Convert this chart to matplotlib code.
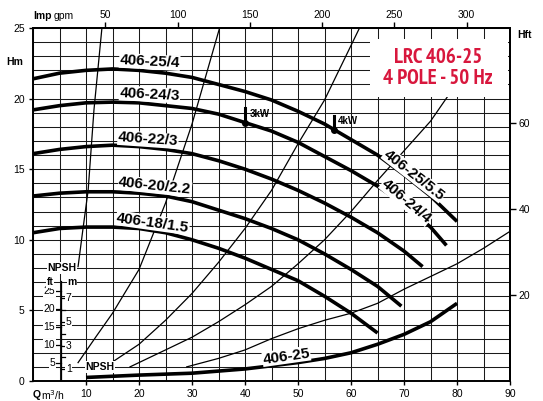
import numpy as np
import matplotlib.pyplot as plt
from matplotlib import font_manager as fm
from matplotlib.patches import Rectangle

plt.rcParams['font.family'] = ['Liberation Sans', 'DejaVu Sans']

# pump head curves, Q in m3/h, H in m
q_25 = [0, 5, 10, 15, 20, 25, 30, 35, 40, 45, 50, 55, 60, 65, 70, 75, 80]
h_25 = [21.4, 21.8, 22.0, 22.1, 22.0, 21.8, 21.5, 21.0, 20.5, 19.9, 19.1, 18.2, 17.1, 16.0, 14.6, 13.1, 11.3]
q_24 = [0, 5, 10, 15, 20, 25, 30, 35, 40, 45, 50, 55, 60, 65, 70, 75, 78]
h_24 = [19.2, 19.5, 19.7, 19.75, 19.7, 19.5, 19.3, 18.9, 18.3, 17.7, 16.9, 15.9, 14.9, 13.8, 12.5, 10.9, 9.6]
q_22 = [0, 5, 10, 15, 20, 25, 30, 35, 40, 45, 50, 55, 60, 65, 70, 73.5]
h_22 = [16.1, 16.4, 16.6, 16.7, 16.6, 16.4, 16.1, 15.6, 15.0, 14.3, 13.5, 12.6, 11.6, 10.5, 9.2, 8.1]
q_20 = [0, 5, 10, 15, 20, 25, 30, 35, 40, 45, 50, 55, 60, 65, 69.5]
h_20 = [13.1, 13.3, 13.4, 13.4, 13.3, 13.1, 12.7, 12.1, 11.5, 10.8, 10.0, 9.0, 7.9, 6.7, 5.3]
q_18 = [0, 5, 10, 15, 20, 25, 30, 35, 40, 45, 50, 55, 60, 65]
h_18 = [10.5, 10.8, 10.9, 10.9, 10.8, 10.5, 10.0, 9.4, 8.7, 7.9, 7.1, 6.0, 4.8, 3.4]

# NPSH curve (m of NPSH)
q_npsh = [10, 20, 30, 40, 50, 55, 60, 65, 70, 75, 80]
npsh_m = [0.3, 0.5, 0.66, 1.02, 1.56, 1.91, 2.39, 3.11, 3.95, 5.02, 6.58]

# thin curves
q_t1 = [8.5, 9.4, 10.4, 11.5, 13.0]
h_t1 = [8.1, 10.7, 13.5, 19.2, 25.0]
q_t2 = [8.5, 12, 15, 20, 25, 30, 35.2]
h_t2 = [1.3, 3.2, 4.8, 7.9, 12.6, 18.2, 25.0]
q_t3 = [15, 20, 25, 30, 35, 40, 45, 50, 55, 61.6]
h_t3 = [1.35, 2.6, 4.3, 6.2, 8.4, 10.8, 13.5, 16.8, 19.9, 25.0]
q_t4 = [18.3, 25, 30, 35, 40, 45, 50, 55, 60, 65, 70, 75, 78.5]
h_t4 = [1.0, 2.2, 3.1, 4.2, 5.4, 6.7, 8.3, 10.0, 12.0, 14.2, 16.3, 18.4, 20.3]
q_t5 = [29, 35, 40, 45, 50, 55, 60, 65, 70, 75, 80, 85, 90]
h_t5 = [1.0, 1.6, 2.2, 3.0, 3.7, 4.3, 4.8, 5.5, 6.5, 7.4, 8.3, 9.4, 10.6]

# motor power marks
kw_labels = ['3kW', '4kW']
kw_q = [40, 56.7]
kw_h = [18.3, 17.8]

gpm_ticks = [50, 100, 150, 200, 250, 300]
ft_ticks = [20, 40, 60]
npsh_ft_ticks = [5, 10, 15, 20, 25]
npsh_m_ticks = [1, 2, 3, 4, 5, 6, 7]

M3H_TO_GPM = 3.666
M_TO_FT = 3.281
NPSH_SCALE = 0.836   # 1 m NPSH in head-axis metres

RED = '#d8173d'


def narrow_bold_font():
    """pick a narrow bold face for the title, sized to fit the box"""
    narrow, cond = None, None
    for f in fm.fontManager.ttflist:
        nm = (f.name + ' ' + str(f.stretch)).lower()
        w = f.weight if isinstance(f.weight, int) else 400
        if w < 600 or 'semi' in nm:
            continue
        if 'narrow' in nm and narrow is None:
            narrow = f.fname
        elif 'condensed' in nm and cond is None:
            cond = f.fname
    if narrow:
        return fm.FontProperties(fname=narrow, size=15)
    if cond:
        return fm.FontProperties(fname=cond, size=11.5)
    return fm.FontProperties(family='Liberation Sans', weight='bold', size=12)


fig = plt.figure(figsize=(5.43, 4.01), dpi=100)
ax = fig.add_axes([0.0608, 0.0499, 0.8785, 0.8803])
ax.set_xlim(0, 90)
ax.set_ylim(0, 25)

ax.set_xticks(range(10, 91, 10))
ax.set_xticks(np.arange(0, 91, 5), minor=True)
ax.set_yticks(range(0, 26, 5))
ax.set_yticks(range(0, 26), minor=True)
ax.set_axisbelow(True)
ax.grid(which='both', color='0.1', lw=0.75)
ax.tick_params(which='major', length=3, width=1, labelsize=7.5, pad=3)
ax.tick_params(which='minor', length=0)
for sp in ax.spines.values():
    sp.set_linewidth(1.4)

# head curves
thick = dict(color='black', lw=2.6, solid_capstyle='butt', zorder=4)
for q, h in [(q_25, h_25), (q_24, h_24), (q_22, h_22), (q_20, h_20), (q_18, h_18)]:
    ax.plot(q, h, **thick)
ax.plot(q_npsh, np.array(npsh_m) * NPSH_SCALE, **thick)

for q, h in [(q_t1, h_t1), (q_t2, h_t2), (q_t3, h_t3), (q_t4, h_t4), (q_t5, h_t5)]:
    ax.plot(q, h, color='black', lw=0.9, zorder=2)

# power marks
for lab, q, h in zip(kw_labels, kw_q, kw_h):
    ax.plot([q, q], [h, h + 1.0], color='black', lw=2.2, zorder=5)
    ax.plot(q, h, 'o', color='black', ms=4, zorder=5)
    ax.text(q + 0.8, h + 0.6, lab, fontsize=7, fontweight='bold', va='center', zorder=5)

# curve labels
lbl = dict(fontsize=11, fontweight='bold', ha='center', va='center', zorder=6,
           bbox=dict(facecolor='white', edgecolor='none', pad=0.3))
ax.text(22.0, 22.6, '406-25/4', rotation=-3, **lbl)
ax.text(22.0, 20.3, '406-24/3', rotation=-3, **lbl)
ax.text(21.7, 17.1, '406-22/3', rotation=-4, **lbl)
ax.text(23.0, 13.8, '406-20/2.2', rotation=-6, **lbl)
ax.text(22.6, 11.2, '406-18/1.5', rotation=-8, **lbl)
ax.text(71.9, 14.6, '406-25/5.5', rotation=-38, **lbl)
ax.text(70.4, 12.7, '406-24/4', rotation=-40, **lbl)
ax.text(47.8, 1.75, '406-25', rotation=8, **lbl)

# title box
ax.add_patch(Rectangle((63.5, 20.1), 26.1, 4.1, facecolor='white', edgecolor='none', zorder=3))
title = dict(fontproperties=narrow_bold_font(), color=RED, ha='center', va='center', zorder=6)
ax.text(76.4, 22.9, 'LRC 406-25', **title)
ax.text(76.4, 21.4, '4 POLE - 50 Hz', **title)

# NPSH sub-scale
x_ax = 5.2
top = 7.1
ax.plot([x_ax, x_ax], [0, top], color='black', lw=0.9, zorder=4)
wb = dict(facecolor='white', edgecolor='none', pad=0.5)
for ft in npsh_ft_ticks:
    y = ft / M_TO_FT * NPSH_SCALE
    ax.plot([x_ax - 0.8, x_ax], [y, y], color='black', lw=0.9, zorder=4)
    ax.text(x_ax - 1.0, y, str(ft), fontsize=7.5, ha='right', va='center', zorder=5, bbox=wb)
for m in npsh_m_ticks:
    y = m * NPSH_SCALE
    ax.plot([x_ax, x_ax + 0.8], [y, y], color='black', lw=0.9, zorder=4)
    if m % 2:
        ax.text(x_ax + 1.0, y, str(m), fontsize=7.5, ha='left', va='center', zorder=5, bbox=wb)
ax.text(x_ax - 1.3, 7.0, 'ft', fontsize=7.5, fontweight='bold', ha='right', va='center', zorder=5, bbox=wb)
ax.text(x_ax + 1.3, 7.0, 'm', fontsize=7.5, fontweight='bold', ha='left', va='center', zorder=5, bbox=wb)
ax.text(8.2, 8.0, 'NPSH', fontsize=7.5, fontweight='bold', ha='right', va='center', zorder=5, bbox=wb)
ax.text(12.6, 1.0, 'NPSH', fontsize=7.5, fontweight='bold', ha='center', va='center', zorder=5, bbox=wb)

# secondary scales
top_ax = ax.secondary_xaxis('top', functions=(lambda q: q * M3H_TO_GPM, lambda g: g / M3H_TO_GPM))
top_ax.set_xticks(gpm_ticks)
top_ax.tick_params(length=4, width=1, labelsize=7.5, pad=2)
top_ax.spines['top'].set_linewidth(1.4)

right_ax = ax.secondary_yaxis('right', functions=(lambda h: h * M_TO_FT, lambda f: f / M_TO_FT))
right_ax.set_yticks(ft_ticks)
right_ax.tick_params(length=4, width=1, labelsize=7.5, pad=2)
right_ax.spines['right'].set_linewidth(1.4)

# axis captions
ax.text(0.0, 1.035, 'Imp', transform=ax.transAxes, fontsize=7.5, fontweight='bold', va='center')
ax.text(0.044, 1.035, 'gpm', transform=ax.transAxes, fontsize=7.5, va='center')
ax.text(-0.02, 0.903, 'Hm', transform=ax.transAxes, fontsize=7.5, fontweight='bold', ha='right', va='center')
ax.text(1.015, 0.98, 'Hft', transform=ax.transAxes, fontsize=7.5, fontweight='bold', ha='left', va='center')
ax.text(0.0, -0.04, 'Q', transform=ax.transAxes, fontsize=7.5, fontweight='bold', ha='left', va='center')
ax.text(0.016, -0.04, 'm$^3$/h', transform=ax.transAxes, fontsize=7.5, ha='left', va='center')

fig.savefig('out.png', dpi=100)
